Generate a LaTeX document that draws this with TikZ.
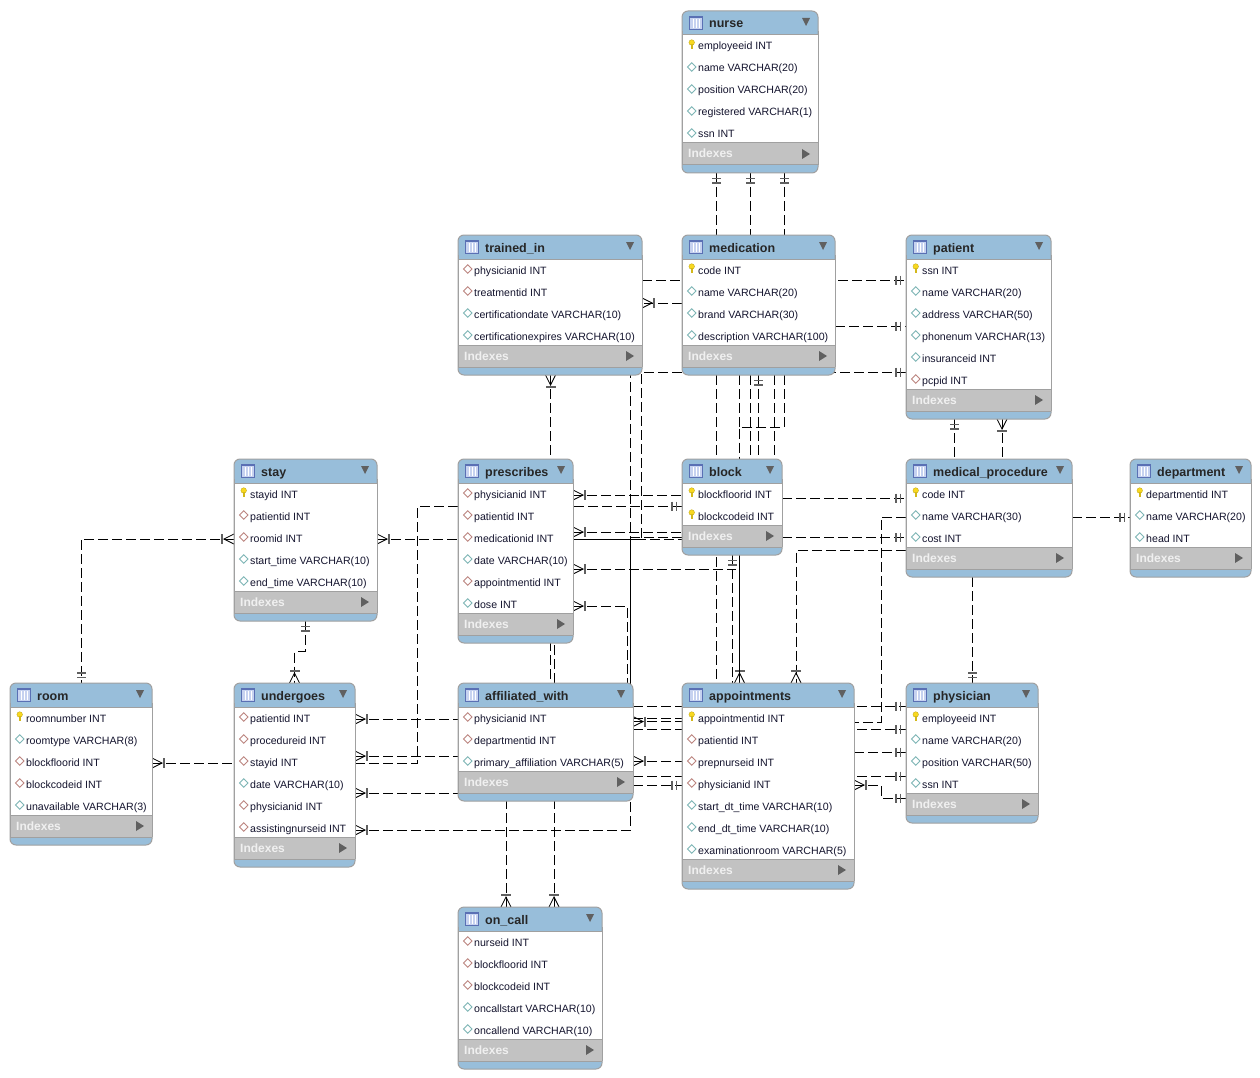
\documentclass[tikz,border=0pt]{standalone}
\usepackage{fontspec}
\setmainfont{Liberation Sans}
\usetikzlibrary{decorations.markings}
\pgfdeclarelayer{background}
\pgfsetlayers{background,main}
\definecolor{headblue}{HTML}{98BEDA}
\definecolor{indexgray}{HTML}{C2C2C2}
\definecolor{edgegray}{HTML}{A0A0A0}
\definecolor{markgray}{HTML}{606060}
\definecolor{keyyellow}{HTML}{F8D820}
\definecolor{teal}{HTML}{7DB5B5}
\definecolor{brick}{HTML}{BC8580}
\definecolor{rowink}{HTML}{14142E}
\definecolor{iconedge}{HTML}{5A70B4}
\definecolor{iconfill}{HTML}{C6D2F0}
\tikzset{
	tablebox/.style = {draw=edgegray, fill=headblue, rounded corners=6pt, line width=1pt, inner sep=0pt, outer sep=0pt, anchor=north west},
	tabletitle/.style = {anchor=base west, inner sep=0pt, font=\fontsize{12.5}{14}\selectfont\bfseries, text=black!85},
	rowtext/.style = {anchor=base west, inner sep=0pt, font=\fontsize{10.6}{12}\selectfont, text=rowink},
	indextext/.style = {anchor=base west, inner sep=0pt, font=\fontsize{12}{14}\selectfont\bfseries, text=white!94!black},
	rel/.style = {line width=1pt, dash pattern=on 10pt off 4pt},
	relb/.style = {rel, dash phase=7pt},
	relfull/.style = {line width=1pt},
	oneS/.style = {postaction={decorate, decoration={markings,
		mark=at position 5.5pt with {\draw[solid, markgray, line width=1.2pt] (0,-4.5) -- (0,4.5);},
		mark=at position 10pt with {\draw[solid, markgray, line width=1.2pt] (0,-4.5) -- (0,4.5);}}}},
	oneE/.style = {postaction={decorate, decoration={markings,
		mark=at position -10pt with {\draw[solid, markgray, line width=1.2pt] (0,-4.5) -- (0,4.5);},
		mark=at position -5.5pt with {\draw[solid, markgray, line width=1.2pt] (0,-4.5) -- (0,4.5);}}}},
	manyS/.style = {postaction={decorate, decoration={markings,
		mark=at position 0.1pt with {\draw[solid, black, line width=.8pt] (0,-5) -- (10,0) -- (0,5);
			\draw[solid, markgray, line width=1.4pt] (12,-5) -- (12,5);}}}},
	manyE/.style = {postaction={decorate, decoration={markings,
		mark=at position -0.1pt with {\draw[solid, black, line width=.8pt] (0,-5) -- (-10,0) -- (0,5);
			\draw[solid, markgray, line width=1.4pt] (-12,-5) -- (-12,5);}}}},
}
\newcommand{\iconk}[1]{
	\fill[keyyellow, draw=keyyellow!75!black, line width=.3pt] (9.7,#1-3.5) ellipse (2.8pt and 2.8pt);
	\fill[keyyellow!85!black] (8.5,#1-2) rectangle (10.9,#1+3);
}
\newcommand{\icond}[1]{\draw[teal, fill=white, line width=.9pt] (9.7,#1-5.3) -- (14,#1-1) -- (9.7,#1+3.3) -- (5.4,#1-1) -- cycle;}
\newcommand{\iconf}[1]{\draw[brick, fill=white, line width=.9pt] (9.7,#1-5.3) -- (14,#1-1) -- (9.7,#1+3.3) -- (5.4,#1-1) -- cycle;}
% name, title, left, top, width, number of rows, rows
\newcommand{\ertable}[7]{
	\pgfmathsetmacro{\tabh}{52+22*#6}
	\pgfmathsetmacro{\bodyb}{22+22*#6}
	\node[tablebox, minimum width=#5pt, minimum height=\tabh pt] (#1) at (#3,#4) {};
	\begin{scope}[shift={(#3,#4)}]
		\fill[white] (0,24) rectangle (#5,\bodyb);
		\fill[indexgray] (0,\bodyb) rectangle (#5,\bodyb+22);
		\draw[edgegray, line width=1pt] (0,24) -- (#5,24) (0,\bodyb) -- (#5,\bodyb) (0,\bodyb+22) -- (#5,\bodyb+22);
		\draw[edgegray, line width=1pt] (0,20) -- (0,\tabh-8) (#5,20) -- (#5,\tabh-8);
		% table icon
		\draw[iconedge, fill=iconfill, line width=.8pt] (7.5,5.5) rectangle (20.5,18);
		\draw[iconedge, line width=1.2pt] (7.5,6) -- (20.5,6);
		\draw[white, line width=.7pt] (11,8) -- (11,17) (14,8) -- (14,17) (17,8) -- (17,17);
		\fill[markgray] (#5-16,7) -- (#5-8,7) -- (#5-12,15) -- cycle;
		\fill[markgray] (#5-16,\bodyb+6) -- (#5-8,\bodyb+11) -- (#5-16,\bodyb+16) -- cycle;
		\node[tabletitle] (#1-title) at (27,17) {#2};
		\node[indextext] (#1-index) at (6,\bodyb+15) {Indexes};
		\foreach \kind/\txt [count=\i from 0] in {#7} {
			\pgfmathsetmacro{\rowy}{35+22*\i}
			\csname icon\kind\endcsname{\rowy}
			\node[rowtext] (#1-\i) at (16,\rowy+4) {\txt};
		}
	\end{scope}
}
\begin{document}
\begin{tikzpicture}[x=1pt, y=-1pt]
	\useasboundingbox (0,0) rectangle (1260,1078);

	\ertable{nurse}{nurse}{682}{11}{136}{5}{k/employeeid INT, d/name VARCHAR(20), d/position VARCHAR(20), d/registered VARCHAR(1), d/ssn INT}
	\ertable{trainedin}{trained\_in}{458}{235}{184}{4}{f/physicianid INT, f/treatmentid INT, d/certificationdate VARCHAR(10), d/certificationexpires VARCHAR(10)}
	\ertable{medication}{medication}{682}{235}{153}{4}{k/code INT, d/name VARCHAR(20), d/brand VARCHAR(30), d/description VARCHAR(100)}
	\ertable{patient}{patient}{906}{235}{145}{6}{k/ssn INT, d/name VARCHAR(20), d/address VARCHAR(50), d/phonenum VARCHAR(13), d/insuranceid INT, f/pcpid INT}
	\ertable{stay}{stay}{234}{459}{143}{5}{k/stayid INT, f/patientid INT, f/roomid INT, d/start\_time VARCHAR(10), d/end\_time VARCHAR(10)}
	\ertable{prescribes}{prescribes}{458}{459}{115}{6}{f/physicianid INT, f/patientid INT, f/medicationid INT, d/date VARCHAR(10), f/appointmentid INT, d/dose INT}
	\ertable{block}{block}{682}{459}{100}{2}{k/blockfloorid INT, k/blockcodeid INT}
	\ertable{medicalprocedure}{medical\_procedure}{906}{459}{166}{3}{k/code INT, d/name VARCHAR(30), d/cost INT}
	\ertable{department}{department}{1130}{459}{121}{3}{k/departmentid INT, d/name VARCHAR(20), d/head INT}
	\ertable{room}{room}{10}{683}{142}{5}{k/roomnumber INT, d/roomtype VARCHAR(8), f/blockfloorid INT, f/blockcodeid INT, d/unavailable VARCHAR(3)}
	\ertable{undergoes}{undergoes}{234}{683}{121}{6}{f/patientid INT, f/procedureid INT, f/stayid INT, d/date VARCHAR(10), f/physicianid INT, f/assistingnurseid INT}
	\ertable{affiliatedwith}{affiliated\_with}{458}{683}{175}{3}{f/physicianid INT, f/departmentid INT, d/primary\_affiliation VARCHAR(5)}
	\ertable{appointments}{appointments}{682}{683}{172}{7}{k/appointmentid INT, f/patientid INT, f/prepnurseid INT, f/physicianid INT, d/start\_dt\_time VARCHAR(10), d/end\_dt\_time VARCHAR(10), d/examinationroom VARCHAR(5)}
	\ertable{physician}{physician}{906}{683}{132}{4}{k/employeeid INT, d/name VARCHAR(20), d/position VARCHAR(50), d/ssn INT}
	\ertable{oncall}{on\_call}{458}{907}{144}{5}{f/nurseid INT, f/blockfloorid INT, f/blockcodeid INT, d/oncallstart VARCHAR(10), d/oncallend VARCHAR(10)}

	\coordinate (dateend) at (736,569);

	\begin{pgfonlayer}{background}
		% nurse, medication, patient
		\draw[rel, oneS] (nurse.south -| 716,0) -- (medication.north -| 716,0);
		\draw[rel, oneS] (nurse.south -| 750,0) -- (medication.north -| 750,0);
		\draw[rel, oneS] (nurse.south -| 784,0) -- (medication.north -| 784,0);
		\draw[rel, oneE] (trainedin.east |- 0,280) -- (patient.west |- 0,280);
		\draw[rel, manyE] (medication.west |- 0,303) -- (trainedin.east |- 0,303);
		\draw[rel, oneE] (medication.east |- 0,326) -- (patient.west |- 0,326);
		\draw[rel, oneE] (prescribes.east |- 0,539) -- (641.5,539) -- (641.5,372) -- (patient.west |- 0,372);
		\draw[rel, oneS] (patient.south -| 954,0) -- (medicalprocedure.north -| 954,0);
		\draw[rel, manyS] (patient.south -| 1002,0) -- (medicalprocedure.north -| 1002,0);
		% medication, block, appointments
		\draw[rel] (medication.south -| 716,0) -- (appointments.north -| 716,0);
		\draw[rel] (medication.south -| 739.5,0) -- (739.5,427);
		\draw[rel, manyE] (medication.south -| 784,0) -- (784,427) -- (739.5,427) -- (appointments.north -| 739.5,0);
		\draw[relfull] (block.south -| 739.5,0) -- (appointments.north -| 739.5,0);
		\draw[rel] (medication.south -| 750.5,0) -- (block.north -| 750.5,0);
		\draw[rel, oneS] (medication.south -| 758,0) -- (block.north -| 758,0);
		\draw[rel] (medication.south -| 774.5,0) -- (block.north -| 774.5,0);
		\draw[rel, oneS] (block.south -| 732,0) -- (appointments.north -| 732,0);
		\draw[rel, manyE] (medicalprocedure.west |- 0,550.5) -- (796,550.5) -- (appointments.north -| 796,0);
		\draw[rel, oneE] (block.east |- 0,498) -- (medicalprocedure.west |- 0,498);
		\draw[rel, oneE] (block.east |- 0,537.5) -- (medicalprocedure.west |- 0,537.5);
		\draw[rel, oneE] (medicalprocedure.east |- 0,517) -- (department.west |- 0,517);
		\draw[rel, oneE] (medicalprocedure.south -| 972,0) -- (physician.north -| 972,0);
		% prescribes
		\draw[rel, manyS] (trainedin.south -| 550.5,0) -- (affiliatedwith.north -| 550.5,0);
		\draw[rel, manyS] (prescribes.east |- 0,495) -- (block.west |- 0,495);
		\draw[rel, manyS] (prescribes.east |- 0,532) -- (block.west |- 0,532);
		\draw[relb] (prescribes.east |- 0,539) -- (block.west |- 0,539);
		\draw[rel, manyS] (prescribes.east |- 0,569) -- (dateend);
		\draw[rel, manyS] (prescribes.east |- 0,606) -- (627,606) -- (affiliatedwith.north -| 627,0);
		\draw[rel, manyS] (stay.east |- 0,539) -- (prescribes.west |- 0,539);
		\draw[rel, oneE] (undergoes.east |- 0,763) -- (417.5,763) -- (417.5,506) -- (block.west |- 0,506);
		\draw[rel] (block.west |- 0,537) -- (630.5,537);
		\draw[relfull] (630.5,537) -- (affiliatedwith.north -| 630.5,0);
		\draw[rel, manyS] (undergoes.east |- 0,830) -- (630.5,830) -- (trainedin.south -| 630.5,0);
		% stay, room, undergoes
		\draw[rel, manyS, oneE] (stay.west |- 0,539) -- (81,539) -- (room.north -| 81,0);
		\draw[rel, manyS] (room.east |- 0,763) -- (undergoes.west |- 0,763);
		\draw[rel, oneS, manyE] (stay.south -| 305,0) -- (305,651.5) -- (294.5,651.5) -- (undergoes.north -| 294.5,0);
		\draw[rel, manyS] (undergoes.east |- 0,719) -- (affiliatedwith.west |- 0,719);
		\draw[rel, manyS] (undergoes.east |- 0,756) -- (affiliatedwith.west |- 0,756);
		\draw[rel, manyS] (undergoes.east |- 0,793) -- (affiliatedwith.west |- 0,793);
		% on_call
		\draw[rel, manyS] (oncall.north -| 506,0) -- (affiliatedwith.south -| 506,0);
		\draw[rel, manyS] (oncall.north -| 554,0) -- (prescribes.south -| 554,0);
		% affiliated_with, appointments, physician
		\draw[rel, oneE] (affiliatedwith.east |- 0,706) -- (physician.west |- 0,706);
		\draw[rel, oneE] (affiliatedwith.east |- 0,729.5) -- (physician.west |- 0,729.5);
		\draw[rel, oneE] (appointments.east |- 0,752) -- (physician.west |- 0,752);
		\draw[rel, oneE] (affiliatedwith.east |- 0,776) -- (physician.west |- 0,776);
		\draw[rel] (affiliatedwith.east |- 0,718.5) -- (appointments.west |- 0,718.5);
		\draw[rel, manyS] (affiliatedwith.east |- 0,721.5) -- (appointments.west |- 0,721.5);
		\draw[rel, manyS] (affiliatedwith.east |- 0,761) -- (appointments.west |- 0,761);
		\draw[rel, oneE] (affiliatedwith.east |- 0,785) -- (appointments.west |- 0,785);
		\draw[rel] (medicalprocedure.west |- 0,517) -- (881,517) -- (881,722) -- (appointments.east |- 0,722);
		\draw[rel, manyS, oneE] (appointments.east |- 0,785) -- (881,785) -- (881,798) -- (physician.west |- 0,798);
	\end{pgfonlayer}
\end{tikzpicture}
\end{document}
